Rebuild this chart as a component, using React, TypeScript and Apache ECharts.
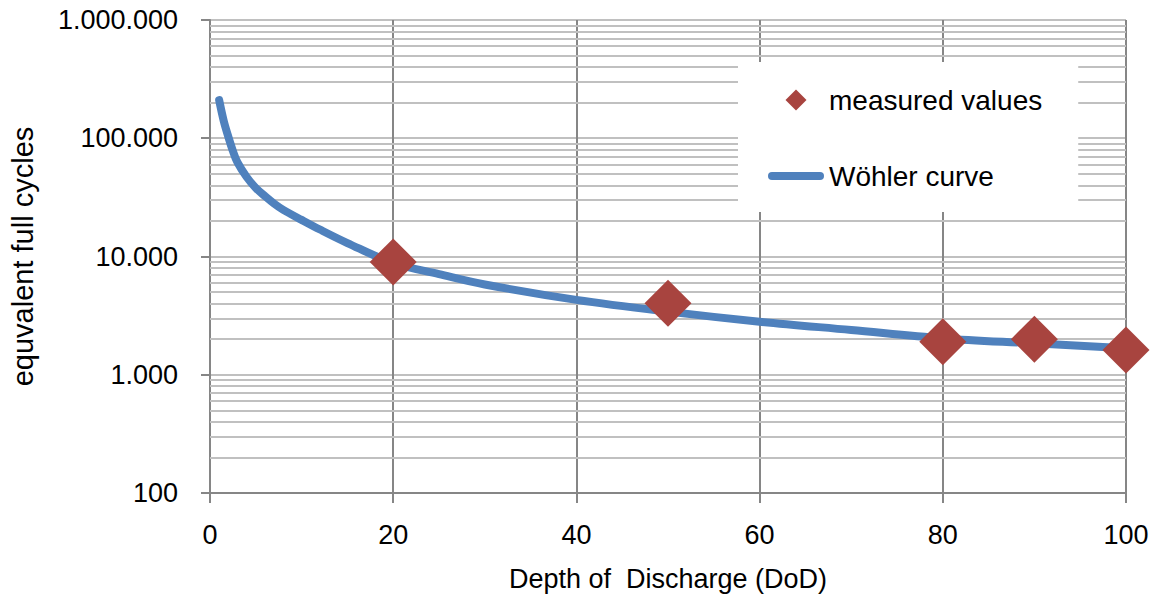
import React, { useEffect, useRef } from "react";
import * as echarts from "echarts";

const curveDoD = [1, 1.5, 2, 2.5, 3, 4, 5, 6, 7, 8, 10, 12, 15, 20, 25, 30, 40, 50, 60, 70, 80, 90, 100];
const curveCycles = [210000, 140000, 103000, 78000, 62400, 47000, 38000, 32400, 28000, 24800, 20400, 16900, 13000, 8800, 7100, 5800, 4300, 3420, 2810, 2390, 2030, 1845, 1675];

const measuredDoD = [20, 50, 80, 90, 100];
const measuredCycles = [9000, 4020, 1900, 2000, 1620];

const minorLines = [
  200, 300, 400, 500, 600, 700, 800, 900,
  2000, 3000, 4000, 5000, 6000, 7000, 8000, 9000,
  20000, 30000, 40000, 50000, 60000, 70000, 80000, 90000,
  200000, 300000, 400000, 500000, 600000, 700000, 800000, 900000,
];

const FONT = "Liberation Sans";

function fmt(v: number) {
  return String(Math.round(v)).replace(/\B(?=(\d{3})+(?!\d))/g, ".");
}

export default function App() {
  const ref = useRef<HTMLDivElement>(null);
  useEffect(() => {
    document.body.style.margin = "0";
    const chart = echarts.init(ref.current!, undefined, { renderer: "svg" });
    chart.setOption({
      animation: false,
      backgroundColor: "#ffffff",
      grid: { left: 209, top: 20, right: 32, bottom: 108 },
      legend: {
        z: 20,
        data: [
          { name: "measured values", icon: "path://M10,0 L20,10 L10,20 L0,10 Z", itemStyle: { color: "#a8443f" } },
          { name: "Wöhler curve", icon: "path://M4,0 L52,0 A4,4 0 0 1 52,8 L4,8 A4,4 0 0 1 4,0 Z", itemStyle: { color: "#4f81bd" } },
        ],
        orient: "vertical",
        left: 738,
        top: 62,
        padding: [24, 36, 22, 30],
        backgroundColor: "#ffffff",
        symbolKeepAspect: true,
        itemWidth: 56,
        itemHeight: 21,
        itemGap: 48,
        textStyle: { fontFamily: FONT, fontSize: 28, color: "#000" },
      },
      xAxis: {
        type: "value",
        min: 0,
        max: 100,
        interval: 20,
        name: "Depth of  Discharge (DoD)",
        nameLocation: "middle",
        nameGap: 72,
        nameTextStyle: { fontFamily: FONT, fontSize: 27, color: "#000" },
        axisLine: { lineStyle: { color: "#868686", width: 2 } },
        axisTick: { show: true, length: 10, lineStyle: { color: "#868686", width: 2 } },
        axisLabel: { fontFamily: FONT, fontSize: 27, color: "#000", margin: 28 },
        splitLine: { show: true, lineStyle: { color: "#868686", width: 2 } },
      },
      yAxis: {
        type: "log",
        logBase: 10,
        min: 100,
        max: 1000000,
        name: "equvalent full cycles",
        nameLocation: "middle",
        nameGap: 173,
        nameTextStyle: { fontFamily: FONT, fontSize: 29, color: "#000" },
        axisLine: { show: true, lineStyle: { color: "#868686", width: 2 } },
        axisTick: { show: true, length: 9, lineStyle: { color: "#868686", width: 2 } },
        axisLabel: { fontFamily: FONT, fontSize: 27, color: "#000", margin: 32, formatter: (v: number) => fmt(v) },
        splitLine: { show: true, lineStyle: { color: "#c0c0c0", width: 2 } },
        minorTick: { show: false },
      },
      series: [
        {
          type: "line",
          data: [],
          z: 1,
          silent: true,
          markLine: {
            z: 1,
            silent: true,
            symbol: "none",
            label: { show: false },
            lineStyle: { color: "#c0c0c0", width: 2, type: "solid" },
            data: minorLines.map((v) => ({ yAxis: v })),
          },
        },
        {
          name: "Wöhler curve",
          type: "line",
          z: 3,
          smooth: 0.35,
          showSymbol: false,
          symbol: "none",
          data: curveDoD.map((d, i) => [d, curveCycles[i]]),
          lineStyle: { color: "#4f81bd", width: 8, cap: "round", join: "round" },
          itemStyle: { color: "#4f81bd" },
        },
        {
          name: "measured values",
          type: "scatter",
          z: 4,
          symbol: "diamond",
          symbolSize: 47,
          data: measuredDoD.map((d, i) => [d, measuredCycles[i]]),
          itemStyle: { color: "#a8443f", opacity: 1 },
        },
      ],
    });
    return () => chart.dispose();
  }, []);
  return <div ref={ref} style={{ width: 1158, height: 601 }} />;
}
